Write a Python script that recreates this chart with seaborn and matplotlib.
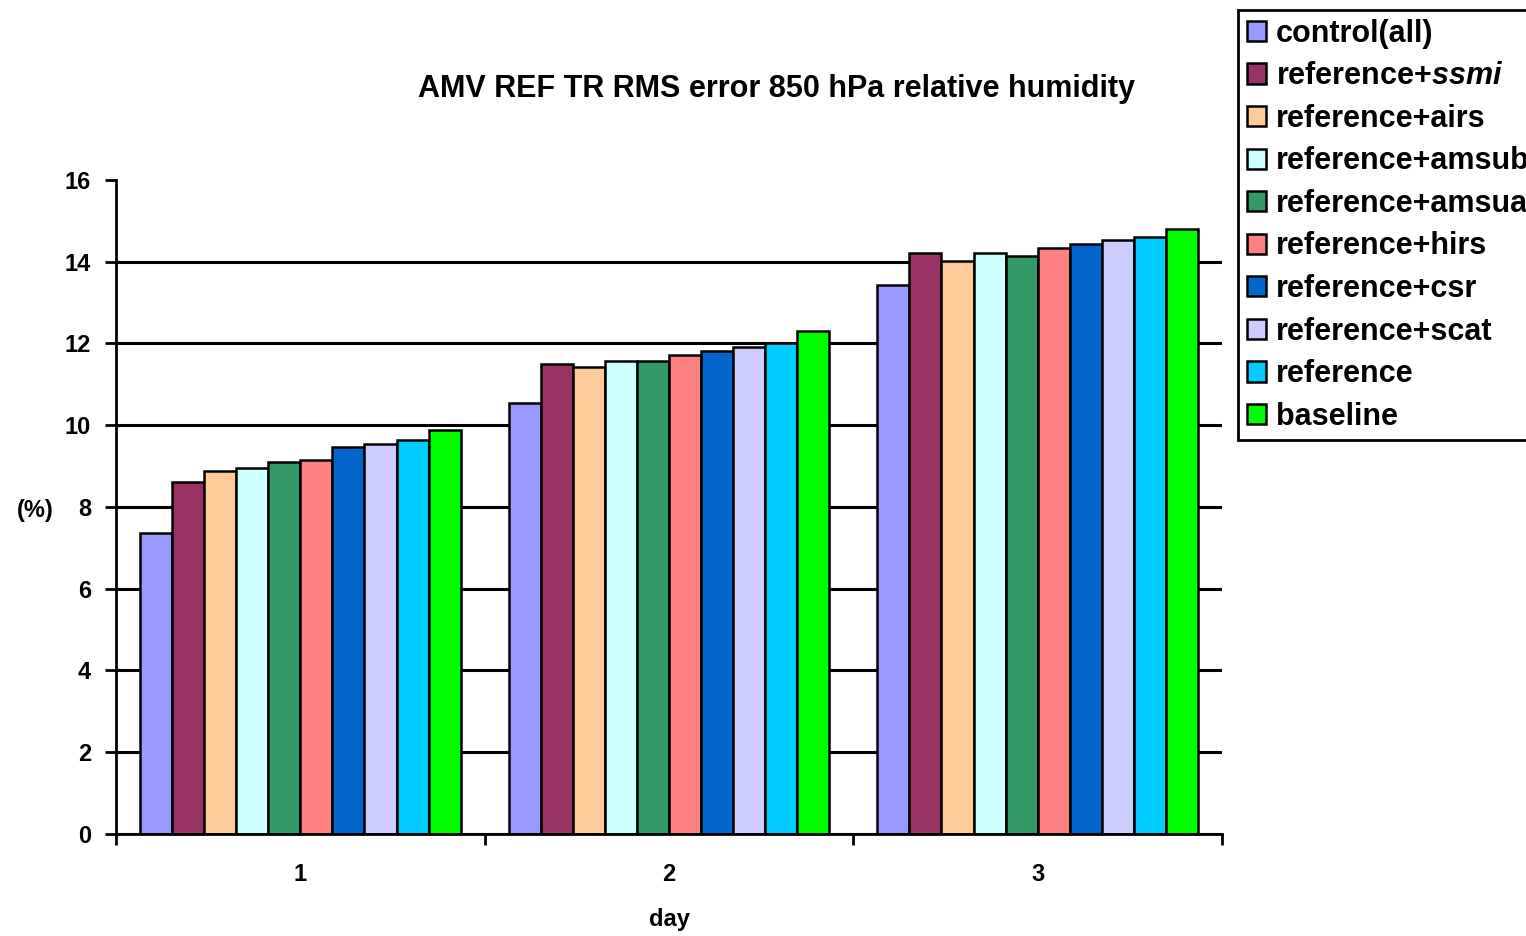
import numpy as np
import pandas as pd
import matplotlib
matplotlib.use("Agg")
import matplotlib.pyplot as plt
import seaborn as sns

days = ["1", "2", "3"]
experiments = ["control(all)", "reference+$\\mathit{ssmi}$", "reference+airs",
               "reference+amsub", "reference+amsua", "reference+hirs",
               "reference+csr", "reference+scat", "reference", "baseline"]
colors = ["#9999ff", "#993366", "#ffcc99", "#ccffff", "#339966",
          "#ff8080", "#0066cc", "#ccccff", "#00ccff", "#00ff00"]

# RMS error (%) per experiment, one list per forecast day
day1 = [7.36, 8.62, 8.88, 8.96, 9.11, 9.15, 9.47, 9.55, 9.65, 9.88]
day2 = [10.54, 11.49, 11.43, 11.56, 11.56, 11.72, 11.82, 11.91, 12.00, 12.31]
day3 = [13.43, 14.22, 14.03, 14.22, 14.15, 14.34, 14.43, 14.53, 14.61, 14.79]

rows = []
for d, vals in zip(days, [day1, day2, day3]):
    for e, v in zip(experiments, vals):
        rows.append({"day": d, "experiment": e, "value": v})
df = pd.DataFrame(rows)

sns.set_style("white")
plt.rcParams['font.family'] = ['Liberation Sans', 'DejaVu Sans']
plt.rcParams['mathtext.fontset'] = 'custom'
plt.rcParams['mathtext.it'] = 'Liberation Sans:italic:bold'
plt.rcParams['text.color'] = 'black'
plt.rcParams['xtick.color'] = 'black'
plt.rcParams['ytick.color'] = 'black'
plt.rcParams['axes.labelcolor'] = 'black'

fig = plt.figure(figsize=(15.26, 9.36), dpi=100)
ax = fig.add_axes([0.076, 0.109, 0.7248, 0.6987])

sns.barplot(data=df, x="day", y="value", hue="experiment", palette=colors,
            saturation=1, width=0.87, edgecolor="black", linewidth=1.8, ax=ax)

ax.set_xlim(-0.5, 2.5)
ax.set_ylim(0, 16)
ax.set_yticks(np.arange(0, 17, 2))
ax.set_axisbelow(True)
ax.yaxis.grid(True, color="black", linewidth=2.2)
ax.yaxis.get_gridlines()[-1].set_visible(False)

for s in ["top", "right"]:
    ax.spines[s].set_visible(False)
for s in ["left", "bottom"]:
    ax.spines[s].set_color("black")
    ax.spines[s].set_linewidth(2)

ax.tick_params(axis="y", which="major", left=True, length=8, width=2, labelsize=17, pad=10)
ax.tick_params(axis="x", which="major", bottom=False, labelsize=17, pad=17.5)
ax.set_xticks([-0.5, 0.5, 1.5, 2.5], minor=True)
ax.tick_params(axis="x", which="minor", bottom=True, length=8, width=2)
for lab in ax.get_xticklabels() + ax.get_yticklabels():
    lab.set_fontweight("heavy")

ax.set_xlabel("day", fontsize=17, fontweight="heavy", labelpad=16)
ax.set_ylabel("(%)", fontsize=17, fontweight="heavy", rotation=0)
ax.yaxis.set_label_coords(-0.073, 0.495)
ax.yaxis.label.set_verticalalignment("center")

fig.text(0.509, 0.905, "AMV REF TR RMS error 850 hPa relative humidity",
         ha="center", va="center", fontsize=22, fontweight="heavy")

handles, labels = ax.get_legend_handles_labels()
ax.get_legend().remove()
leg = fig.legend(handles, labels, loc="upper left", bbox_to_anchor=(0.8113, 0.989),
                 fancybox=False, frameon=True, edgecolor="black", framealpha=1,
                 prop={"size": 22, "weight": "bold"}, handlelength=0.65, handleheight=0.65,
                 handletextpad=0.3, labelspacing=0.41, borderpad=0.28, borderaxespad=0)
leg.get_frame().set_linewidth(2)

fig.savefig("out.png", dpi=100)
